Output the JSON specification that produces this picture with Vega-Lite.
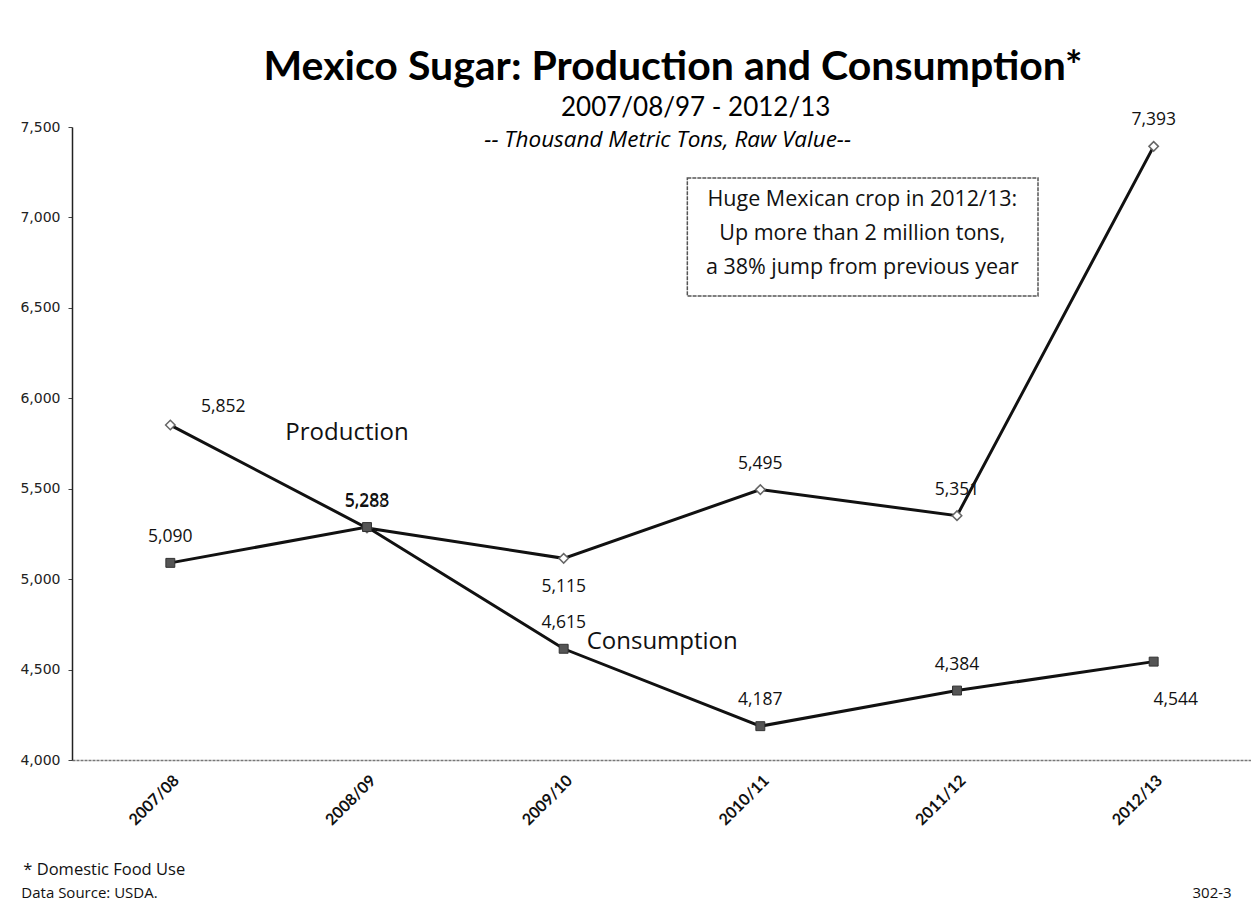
{
  "$schema": "https://vega.github.io/schema/vega-lite/v6.json",
  "width": 1180,
  "height": 633,
  "autosize": {"type": "none"},
  "padding": {"left": 72, "top": 127, "right": 0, "bottom": 155},
  "background": "white",
  "title": {
    "text": "Mexico Sugar: Production and Consumption*",
    "font": "Lato",
    "fontSize": 41,
    "fontWeight": "bold",
    "color": "#000",
    "anchor": "middle",
    "dx": 11,
    "offset": 6
  },
  "config": {
    "view": {"stroke": null},
    "text": {"font": "Open Sans", "color": "#111", "fontWeight": "normal"}
  },
  "data": {
    "values": [
      {"year": "2007/08", "series": "Production", "value": 5852},
      {"year": "2008/09", "series": "Production", "value": 5283},
      {"year": "2009/10", "series": "Production", "value": 5115},
      {"year": "2010/11", "series": "Production", "value": 5495},
      {"year": "2011/12", "series": "Production", "value": 5351},
      {"year": "2012/13", "series": "Production", "value": 7393},
      {"year": "2007/08", "series": "Consumption", "value": 5090},
      {"year": "2008/09", "series": "Consumption", "value": 5288},
      {"year": "2009/10", "series": "Consumption", "value": 4615},
      {"year": "2010/11", "series": "Consumption", "value": 4187},
      {"year": "2011/12", "series": "Consumption", "value": 4384},
      {"year": "2012/13", "series": "Consumption", "value": 4544}
    ]
  },
  "encoding": {
    "x": {
      "field": "year",
      "type": "ordinal",
      "scale": {"type": "point", "padding": 0.5},
      "axis": {
        "title": null,
        "labelAngle": -45,
        "labelFont": "Lato",
        "labelFontSize": 16,
        "labelFontWeight": "bold",
        "labelColor": "#111",
        "ticks": false,
        "labelPadding": 12,
        "domainColor": "#777",
        "domainWidth": 1.5,
        "domainDash": [3, 1]
      }
    },
    "y": {
      "field": "value",
      "type": "quantitative",
      "scale": {"domain": [4000, 7500], "nice": false, "zero": false},
      "axis": {
        "title": null,
        "grid": false,
        "values": [4000, 4500, 5000, 5500, 6000, 6500, 7000, 7500],
        "labelExpr": "format(datum.value, ',')",
        "labelFont": "DejaVu Sans",
        "labelFontSize": 14,
        "labelColor": "#222",
        "tickSize": 4,
        "tickColor": "#444",
        "labelPadding": 8,
        "domainColor": "#222",
        "domainWidth": 1.5
      }
    }
  },
  "layer": [
    {
      "mark": {"type": "line", "color": "#111", "strokeWidth": 3},
      "encoding": {"detail": {"field": "series"}}
    },
    {
      "transform": [{"filter": "datum.series == 'Production'"}],
      "mark": {"type": "point", "shape": "diamond", "filled": true, "fill": "white", "stroke": "#666", "strokeWidth": 1.5, "size": 90, "opacity": 1}
    },
    {
      "transform": [{"filter": "datum.series == 'Consumption'"}],
      "mark": {"type": "point", "shape": "square", "filled": true, "fill": "#555", "stroke": "#333", "strokeWidth": 1, "size": 80, "opacity": 1}
    },
    {
      "transform": [{"filter": "!((datum.series == 'Production' && (datum.year == '2007/08' || datum.year == '2009/10')) || (datum.series == 'Consumption' && datum.year == '2012/13'))"}],
      "mark": {"type": "text", "fontSize": 17.5, "dy": -26, "baseline": "middle"},
      "encoding": {"text": {"field": "value", "type": "quantitative", "format": ","}}
    },
    {
      "transform": [{"filter": "datum.series == 'Production' && datum.year == '2007/08'"}],
      "mark": {"type": "text", "fontSize": 17.5, "dx": 53, "dy": -18, "baseline": "middle"},
      "encoding": {"text": {"field": "value", "type": "quantitative", "format": ","}}
    },
    {
      "transform": [{"filter": "datum.series == 'Production' && datum.year == '2009/10'"}],
      "mark": {"type": "text", "fontSize": 17.5, "dy": 29, "baseline": "middle"},
      "encoding": {"text": {"field": "value", "type": "quantitative", "format": ","}}
    },
    {
      "transform": [{"filter": "datum.series == 'Consumption' && datum.year == '2012/13'"}],
      "mark": {"type": "text", "fontSize": 17.5, "dx": 22, "dy": 38, "baseline": "middle"},
      "encoding": {"text": {"field": "value", "type": "quantitative", "format": ","}}
    },
    {
      "transform": [{"filter": "datum.series == 'Production' && datum.year == '2007/08'"}],
      "mark": {"type": "text", "text": "Production", "fontSize": 24, "dx": -20, "baseline": "middle"},
      "encoding": {"x": {"datum": "2008/09"}, "y": {"datum": 5808}}
    },
    {
      "transform": [{"filter": "datum.series == 'Production' && datum.year == '2007/08'"}],
      "mark": {"type": "text", "text": "Consumption", "fontSize": 24, "dx": 23, "align": "left", "baseline": "middle"},
      "encoding": {"x": {"datum": "2009/10"}, "y": {"datum": 4652}}
    },
    {
      "transform": [{"filter": "datum.series == 'Production' && datum.year == '2007/08'"}],
      "mark": {"type": "text", "text": "2007/08/97 - 2012/13", "font": "Lato", "fontSize": 26, "dx": 132, "dy": -19, "baseline": "middle", "color": "#000"},
      "encoding": {"x": {"datum": "2009/10"}, "y": {"datum": 7500}}
    },
    {
      "transform": [{"filter": "datum.series == 'Production' && datum.year == '2007/08'"}],
      "mark": {"type": "text", "text": "-- Thousand Metric Tons, Raw Value--", "fontSize": 22.5, "fontStyle": "italic", "dx": 104, "baseline": "middle", "color": "#000"},
      "encoding": {"x": {"datum": "2009/10"}, "y": {"datum": 7428}}
    },
    {
      "transform": [{"filter": "datum.series == 'Production' && datum.year == '2007/08'"}],
      "mark": {"type": "rect", "fill": "white", "stroke": "#555", "strokeWidth": 1.5, "strokeDash": [4, 1], "xOffset": -73, "x2Offset": 81},
      "encoding": {"x": {"datum": "2010/11"}, "x2": {"datum": "2011/12"}, "y": {"datum": 7218}, "y2": {"datum": 6566}}
    },
    {
      "transform": [{"filter": "datum.series == 'Production' && datum.year == '2007/08'"}],
      "mark": {"type": "text", "text": ["Huge Mexican crop in 2012/13:", "Up  more than 2 million tons,", "a 38% jump from previous year"], "fontSize": 21.5, "lineHeight": 34, "dx": 102, "baseline": "middle", "color": "#111"},
      "encoding": {"x": {"datum": "2010/11"}, "y": {"datum": 7096}}
    },
    {
      "transform": [{"filter": "datum.series == 'Production' && datum.year == '2007/08'"}],
      "mark": {"type": "text", "text": "*   Domestic Food Use", "fontSize": 16.5, "dx": -147, "dy": 110, "align": "left", "baseline": "middle", "color": "#111"},
      "encoding": {"x": {"datum": "2007/08"}, "y": {"datum": 4000}}
    },
    {
      "transform": [{"filter": "datum.series == 'Production' && datum.year == '2007/08'"}],
      "mark": {"type": "text", "text": "Data Source: USDA.", "fontSize": 15, "dx": -149, "dy": 133, "align": "left", "baseline": "middle", "color": "#111"},
      "encoding": {"x": {"datum": "2007/08"}, "y": {"datum": 4000}}
    },
    {
      "transform": [{"filter": "datum.series == 'Production' && datum.year == '2007/08'"}],
      "mark": {"type": "text", "text": "302-3", "fontSize": 15, "dx": 78, "dy": 133, "align": "right", "baseline": "middle", "color": "#111"},
      "encoding": {"x": {"datum": "2012/13"}, "y": {"datum": 4000}}
    }
  ]
}
